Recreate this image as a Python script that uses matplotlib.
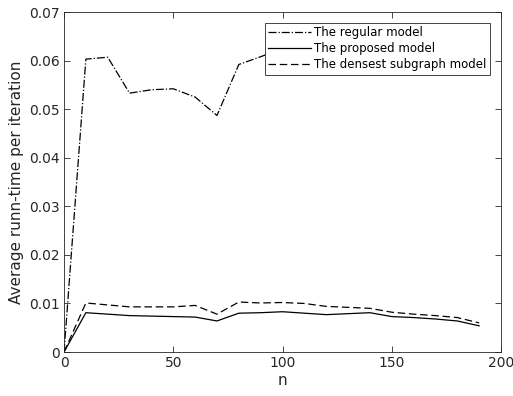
import numpy as np
import matplotlib
matplotlib.use('Agg')
import matplotlib.pyplot as plt

# data
n = [0, 10, 20, 30, 40, 50, 60, 70, 80, 90, 100, 110, 120, 130, 140, 150, 160, 170, 180, 190]
regular = [0, 0.0603, 0.0607, 0.0533, 0.0540, 0.0542, 0.0525, 0.0487, 0.0592, 0.0608,
           0.0625, 0.0630, 0.0635, 0.0632, 0.0640, 0.0638, 0.0642, 0.0645, 0.0640, 0.0645]
proposed = [0, 0.0081, 0.0078, 0.0075, 0.0074, 0.0073, 0.0072, 0.0064, 0.0080, 0.0081,
            0.0083, 0.0080, 0.0077, 0.0079, 0.0081, 0.0073, 0.0071, 0.0068, 0.0064, 0.0054]
densest = [0, 0.0101, 0.0097, 0.0093, 0.0093, 0.0093, 0.0096, 0.0078, 0.0103, 0.0101,
           0.0102, 0.0100, 0.0094, 0.0092, 0.0090, 0.0082, 0.0078, 0.0075, 0.0071, 0.0060]

axis_grey = '#262626'

fig = plt.figure(figsize=(5.13, 3.96), dpi=100)
ax = fig.add_axes([0.1248, 0.111, 0.8518, 0.8586])

ax.plot(n, regular, color='black', linestyle='-.', linewidth=0.9, label='The regular model')
ax.plot(n, proposed, color='black', linestyle='-', linewidth=0.9, label='The proposed model')
ax.plot(n, densest, color='black', linestyle=(0, (6, 3)), linewidth=0.9, label='The densest subgraph model')

ax.set_xlim(0, 200)
ax.set_ylim(0, 0.07)
ax.set_xticks([0, 50, 100, 150, 200])
ax.set_yticks([0, 0.01, 0.02, 0.03, 0.04, 0.05, 0.06, 0.07])
ax.set_yticklabels(['0', '0.01', '0.02', '0.03', '0.04', '0.05', '0.06', '0.07'])

ax.tick_params(direction='in', top=True, right=True, length=4, width=0.6,
               colors=axis_grey, labelsize=10, pad=3)
for s in ax.spines.values():
    s.set_color(axis_grey)
    s.set_linewidth(0.6)

ax.set_xlabel('n', fontsize=11, color=axis_grey, labelpad=2)
ax.set_ylabel('Average runn-time per iteration', fontsize=11, color=axis_grey, labelpad=4)

leg = ax.legend(loc='upper right', fontsize=8.5, frameon=True, fancybox=False,
                framealpha=1, borderpad=0.3, labelspacing=0.25, handlelength=3.6,
                handletextpad=0.3, borderaxespad=0.9)
leg.get_frame().set_edgecolor(axis_grey)
leg.get_frame().set_linewidth(0.6)
for t in leg.get_texts():
    t.set_color('black')

fig.savefig('out.png', dpi=100)
